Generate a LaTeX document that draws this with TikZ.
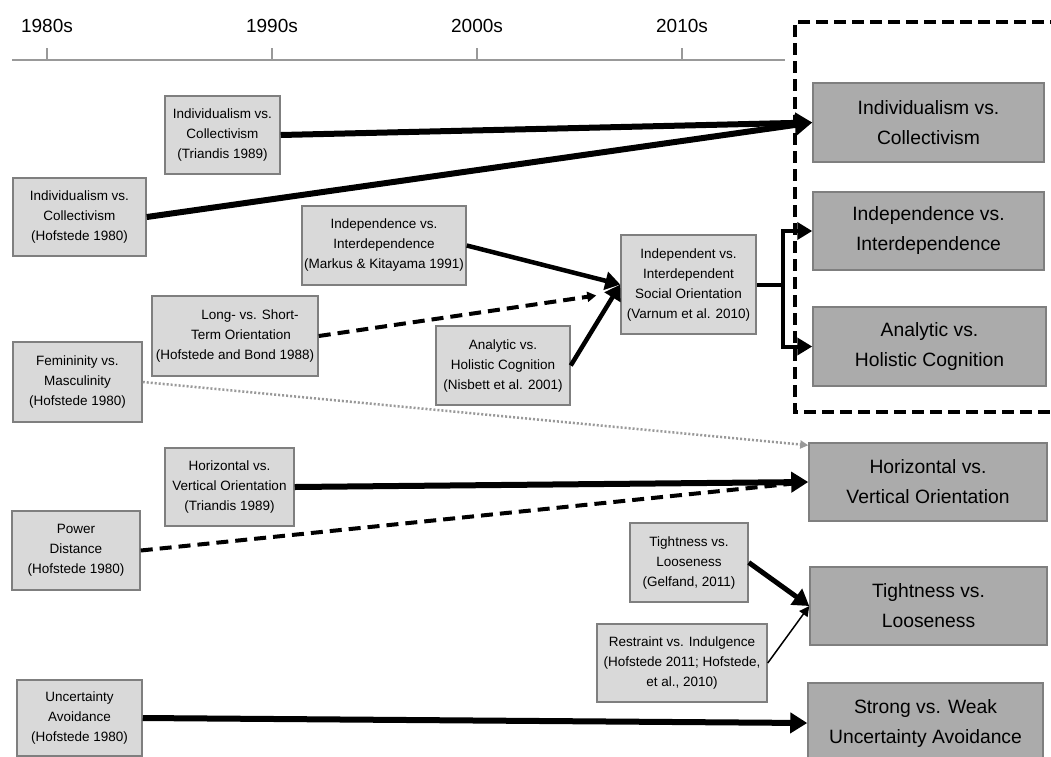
\documentclass[tikz,border=0pt]{standalone}
\usepackage{fontspec}
\setmainfont{Liberation Sans}
\usetikzlibrary{arrows.meta,calc}
\definecolor{sfill}{HTML}{D9D9D9}
\definecolor{bfill}{HTML}{ABABAB}
\definecolor{edge}{HTML}{7F7F7F}
\definecolor{axisc}{HTML}{999999}
\begin{document}
\begin{tikzpicture}[x=1pt,y=-1pt,
  sbox/.style={draw=edge,line width=1.5pt,fill=sfill,align=center,inner sep=1pt,font=\fontsize{13.5}{20}\selectfont},
  bbox/.style={draw=edge,line width=1.5pt,fill=bfill,align=center,inner sep=1pt,font=\fontsize{19.3}{30}\selectfont},
  year/.style={font=\fontsize{19}{20}\selectfont,inner sep=0pt},
  thickarr/.style={line width=6pt,-{Triangle[length=17pt,width=20pt]}},
  medarr/.style={line width=4.5pt,-{Triangle[length=15pt,width=18pt]}},
  brkarr/.style={line width=4pt,-{Triangle[length=15pt,width=17pt]}},
  dasharr/.style={line width=4pt,dash pattern=on 12pt off 7pt,-{Triangle[length=9pt,width=10pt]}},
  dotarr/.style={draw=axisc,line width=2.5pt,dash pattern=on 2pt off 2pt,-{Triangle[length=8pt,width=8pt]}},
  thinarr/.style={line width=1.5pt,-{Triangle[length=10pt,width=10pt]}},
  frame/.style={line width=4pt,dash pattern=on 12pt off 6pt},
  axisline/.style={draw=axisc,line width=1.5pt}
]
\useasboundingbox[fill=white] (0,0) rectangle (1051,756);

% timeline
\draw[axisline] (12,60) -- (785,60);
\foreach \x/\lab in {47/1980s,272/1990s,477/2000s,682/2010s}{
  \node[year] (y\lab) at (\x,26) {\lab};
  \draw[axisline] (\x,48) -- (\x,60);
}

% dashed frame
\draw[frame] (1062,22) -- (795,22) -- (795,412) -- (1062,412);

% small boxes
\node[sbox,minimum width=115pt,minimum height=78pt] (A) at (222.5,135) {Individualism vs.\\Collectivism\\(Triandis 1989)};
\node[sbox,minimum width=133pt,minimum height=78pt] (B) at (79.5,217) {Individualism vs.\\Collectivism\\(Hofstede 1980)};
\node[sbox,minimum width=164pt,minimum height=79pt] (C) at (384,245.5) {Independence vs.\\Interdependence\\(Markus \& Kitayama 1991)};
\node[sbox,minimum width=166pt,minimum height=80pt] (D) at (235,336) {\hspace*{30pt}Long- vs. Short-\\\hspace*{12pt}Term Orientation\\(Hofstede and Bond 1988)};
\node[sbox,minimum width=134pt,minimum height=79pt] (E) at (503,365.5) {Analytic vs.\\Holistic Cognition\\(Nisbett et al. 2001)};
\node[sbox,minimum width=135pt,minimum height=99pt] (F) at (688.5,284.5) {Independent vs.\\Interdependent\\Social Orientation\\(Varnum et al. 2010)};
\node[sbox,minimum width=129pt,minimum height=80pt] (G) at (77.5,382) {Femininity vs.\\Masculinity\\(Hofstede 1980)};
\node[sbox,minimum width=129pt,minimum height=78pt] (H) at (229.5,487) {Horizontal vs.\\Vertical Orientation\\(Triandis 1989)};
\node[sbox,minimum width=128pt,minimum height=79pt] (I) at (76,550.5) {Power\\Distance\\(Hofstede 1980)};
\node[sbox,minimum width=118pt,minimum height=79pt] (J) at (689,562.5) {Tightness vs.\\Looseness\\(Gelfand, 2011)};
\node[sbox,minimum width=170pt,minimum height=78pt] (K) at (682,663) {Restraint vs. Indulgence\\(Hofstede 2011; Hofstede,\\et al., 2010)};
\node[sbox,minimum width=125pt,minimum height=76pt] (L) at (79.5,718) {Uncertainty\\Avoidance\\(Hofstede 1980)};

% big boxes
\node[bbox,minimum width=231pt,minimum height=79pt] (R1) at (928.5,122.5) {Individualism vs.\\Collectivism};
\node[bbox,minimum width=231pt,minimum height=78pt] (R2) at (928.5,231) {Independence vs.\\Interdependence};
\node[bbox,minimum width=233pt,minimum height=79pt] (R3) at (929.5,346.5) {Analytic vs.\\Holistic Cognition};
\node[bbox,minimum width=238pt,minimum height=78pt] (R4) at (928,482) {Horizontal vs.\\Vertical Orientation};
\node[bbox,minimum width=237pt,minimum height=78pt] (R5) at (928.5,606) {Tightness vs.\\Looseness};
\node[bbox,minimum width=235pt,minimum height=80pt] (R6) at (925.5,723) {Strong vs. Weak\\Uncertainty Avoidance};

% connectors
\coordinate (dEnd) at ($(F.west)+(-24,11)$);
\coordinate (gEnd) at ($(R4.north west)+(0,3)$);
\coordinate (b2) at ($(R2.west)+(-29,0)$);
\coordinate (b3) at ($(R3.west)+(-29,0)$);

\draw[thickarr] (B.east) -- (R1.west);
\draw[thickarr] (A.east) -- (R1.west);
\draw[medarr] (C.east) -- (F.west);
\draw[dasharr] (D.east) -- (dEnd);
\draw[medarr] (E.east) -- (F.west);
\draw[brkarr] (F.east) -| (b2) -- (R2.west);
\draw[brkarr] (F.east) -| (b3) -- (R3.west);
\draw[dotarr] (G.east) -- (gEnd);
\draw[line width=4pt,dash pattern=on 12pt off 7pt,shorten >=12pt] (I.east) -- (R4.west);
\draw[thickarr] (H.east) -- (R4.west);
\draw[thinarr] (K.east) -- (R5.west);
\draw[line width=5pt,-{Triangle[length=16pt,width=19pt]}] (J.east) -- (R5.west);
\draw[thickarr] (L.east) -- (R6.west);
\end{tikzpicture}
\end{document}
